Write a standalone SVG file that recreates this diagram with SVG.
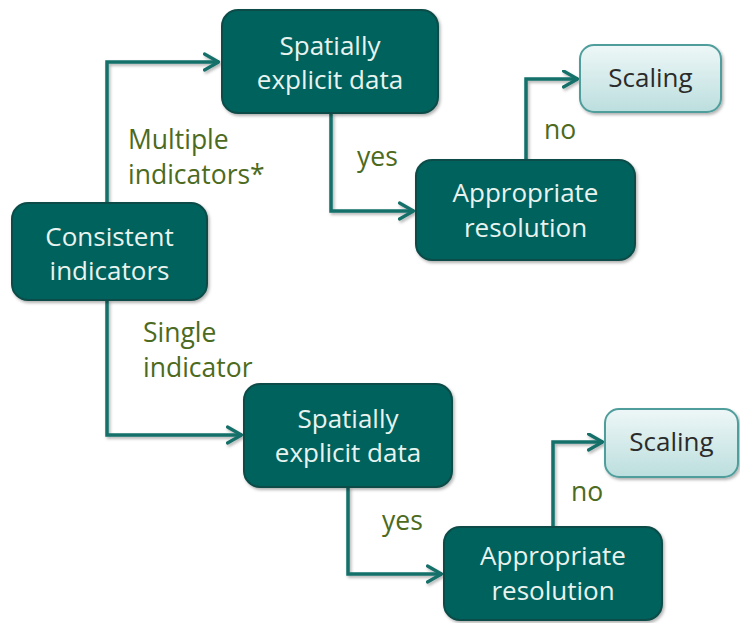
<svg xmlns="http://www.w3.org/2000/svg" width="740" height="623" viewBox="0 0 740 623">
  <defs>
    <linearGradient id="lightFill" x1="0" y1="0" x2="0" y2="1">
      <stop offset="0" stop-color="#eef7f7"/>
      <stop offset="1" stop-color="#bcdede"/>
    </linearGradient>
    <filter id="shadow" x="-10%" y="-10%" width="130%" height="130%">
      <feDropShadow dx="1.5" dy="2" stdDeviation="1.5" flood-color="#000" flood-opacity="0.3"/>
    </filter>
    <marker id="arrow" viewBox="0 0 18 20" refX="16.5" refY="10" markerWidth="18" markerHeight="20" markerUnits="userSpaceOnUse" orient="auto">
      <path d="M2,2 L16,10 L2,18" fill="none" stroke="#16706b" stroke-width="3.2" stroke-linecap="round" stroke-linejoin="round"/>
    </marker>
    <style>
      .box { fill: #04625d; stroke: #0a4c48; stroke-width: 2; filter: url(#shadow); }
      .light { fill: url(#lightFill); stroke: #4f9e9c; stroke-width: 2; filter: url(#shadow); }
      .t { font-family: "Open Sans", "Liberation Sans", sans-serif; font-size: 26px; text-anchor: middle; dominant-baseline: central; fill: #e8f3ef; }
      .td { fill: #2b2b2b; }
      .lbl { font-family: "Open Sans", "Liberation Sans", sans-serif; font-size: 26.5px; fill: #4c6a20; dominant-baseline: central; }
      .conn { fill: none; stroke: #16706b; stroke-width: 3.5; marker-end: url(#arrow); filter: url(#shadow); }
    </style>
  </defs>

  <g id="connectors">
    <path class="conn" d="M107,203 V62 H219"/>
    <path class="conn" d="M331,113 V211 H414"/>
    <path class="conn" d="M526,160 V79 H578"/>
    <path class="conn" d="M107,300 V435 H242"/>
    <path class="conn" d="M348,487 V574 H442"/>
    <path class="conn" d="M553,527 V442 H603"/>
  </g>

  <g id="labels">
    <text class="lbl" x="128" y="139">Multiple</text>
    <text class="lbl" x="128" y="174">indicators*</text>
    <text class="lbl" x="357" y="156">yes</text>
    <text class="lbl" x="544" y="129">no</text>
    <text class="lbl" x="143" y="332">Single</text>
    <text class="lbl" x="143" y="367">indicator</text>
    <text class="lbl" x="382" y="520">yes</text>
    <text class="lbl" x="571" y="491">no</text>
  </g>

  <g id="consistent">
    <rect class="box" x="12" y="203" width="195" height="97" rx="16"/>
    <text class="t" x="109.5" y="236">Consistent</text>
    <text class="t" x="109.5" y="270">indicators</text>
  </g>

  <g id="spatial-top">
    <rect class="box" x="222" y="10" width="216" height="103" rx="16"/>
    <text class="t" x="330" y="45">Spatially</text>
    <text class="t" x="330" y="79">explicit data</text>
  </g>

  <g id="resolution-top">
    <rect class="box" x="416" y="160" width="219" height="100" rx="16"/>
    <text class="t" x="525.5" y="192">Appropriate</text>
    <text class="t" x="525.5" y="227">resolution</text>
  </g>

  <g id="scaling-top">
    <rect class="light" x="580" y="45" width="141" height="67" rx="14"/>
    <text class="t td" x="650.5" y="77">Scaling</text>
  </g>

  <g id="spatial-bottom">
    <rect class="box" x="244" y="384" width="208" height="103" rx="16"/>
    <text class="t" x="348" y="418">Spatially</text>
    <text class="t" x="348" y="452">explicit data</text>
  </g>

  <g id="resolution-bottom">
    <rect class="box" x="444" y="527" width="218" height="93" rx="16"/>
    <text class="t" x="553" y="555">Appropriate</text>
    <text class="t" x="553" y="590">resolution</text>
  </g>

  <g id="scaling-bottom">
    <rect class="light" x="605" y="409" width="133" height="68" rx="14"/>
    <text class="t td" x="671.5" y="441">Scaling</text>
  </g>
</svg>
